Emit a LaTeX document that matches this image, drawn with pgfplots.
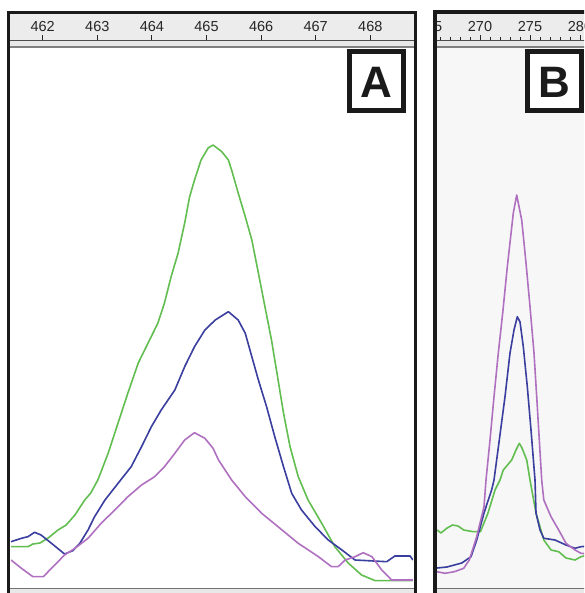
\documentclass[border=0pt]{standalone}
\usepackage{pgfplots}
\pgfplotsset{compat=1.18}
\usepackage{fontspec}
\setmainfont{Liberation Sans}
\definecolor{cgreen}{RGB}{98,190,80}
\definecolor{cblue}{RGB}{58,62,158}
\definecolor{cpurple}{RGB}{176,112,192}
\definecolor{hdr}{RGB}{236,236,236}
\definecolor{frm}{RGB}{26,26,26}

\pgfplotsset{
  dataax/.style={scale only axis, axis lines=none, ymin=0, ymax=540, clip=true},
  hdrax/.style={scale only axis, height=26pt, ymin=0, ymax=1, axis line style={draw=none},
    ytick=\empty, xtick pos=left, tick align=inside,
    major tick length=5pt, minor tick length=3pt,
    every tick/.style={line width=1pt, black!85},
    xticklabel style={anchor=center, yshift=13.3pt, text=black!85, font=\fontsize{14.5}{14.5}\selectfont},
    /pgf/number format/assume math mode=true,
    /pgf/number format/set thousands separator={}},
  crv/.style={line width=1.6pt, line join=round}
}

\begin{document}
\begin{tikzpicture}
\useasboundingbox (0,0) rectangle (584pt,593pt);
\clip (0,0) rectangle (584pt,593pt);
\begin{scope}[x=1pt,y=-1pt,yshift=593pt]
  \fill[white] (0,0) rectangle (584,593);
  % panel A backgrounds
  \fill[hdr] (10,14) rectangle (414,40);
  \fill[black!9] (10,40) rectangle (414,48);
  \fill[black!9] (10,588) rectangle (414,593);
  % panel B backgrounds
  \fill[hdr] (437,13) rectangle (600,40);
  \fill[black!9] (437,40) rectangle (600,48);
  \fill[black!3] (437,48) rectangle (600,588);
  \fill[black!9] (437,588) rectangle (600,593);
\end{scope}

% ---------------- Panel A data ----------------
\begin{axis}[dataax, at={(11pt,5pt)}, anchor=south west, width=402pt, height=540pt,
  xmin=461.419, xmax=468.782]
\addplot[crv, cgreen] coordinates {
(461.42,41.3)(461.73,41.3)(461.82,44)(461.95,45)(462.10,50)(462.28,58)(462.43,63)
(462.59,73)(462.77,88)(462.88,95)(463.01,108)(463.20,135)(463.38,165)(463.56,195)
(463.75,225)(463.93,245)(464.11,265)(464.23,285)(464.35,311)(464.48,335)(464.60,365)
(464.69,391)(464.78,408)(464.90,428)(465.03,440)(465.12,443)(465.28,436.3)(465.40,428)
(465.46,418)(465.58,395)(465.71,371.3)(465.83,348)(465.95,315)(466.07,281.3)(466.19,248)
(466.29,215)(466.41,175)(466.53,141.3)(466.68,111.3)(466.86,88)(467.11,64.7)(467.35,41.3)
(467.60,24.7)(467.84,13)(468.09,7.3)(468.78,7.3)};
\addplot[crv, cblue] coordinates {
(461.42,46.3)(461.61,49.7)(461.73,51.3)(461.85,55.7)(461.97,53)(462.16,44.7)(462.40,34)
(462.55,37.3)(462.68,44.7)(462.83,58)(462.95,71.3)(463.14,88)(463.38,104.7)(463.62,121.3)
(463.81,141.3)(463.99,161.3)(464.17,178)(464.42,198)(464.60,221.3)(464.78,241.3)
(464.97,258)(465.16,268)(465.40,276.3)(465.58,268)(465.71,254.7)(465.83,231.3)
(465.95,208)(466.10,181.3)(466.25,151.3)(466.41,121.3)(466.56,94.7)(466.74,78)
(466.99,61.3)(467.23,48)(467.48,38)(467.72,28)(468.30,26.3)(468.45,32)(468.73,32)(468.78,28)};
\addplot[crv, cpurple] coordinates {
(461.42,28)(461.61,19.7)(461.82,11.3)(462.01,11.3)(462.22,23)(462.40,33)(462.59,39.7)
(462.83,49.7)(463.07,64.7)(463.32,78)(463.56,91.3)(463.81,103)(464.05,111.3)(464.23,121.3)
(464.42,134.7)(464.60,148)(464.78,155.3)(464.97,149.7)(465.12,139.7)(465.22,128)
(465.46,108)(465.71,91.3)(466.01,74.7)(466.31,61.3)(466.68,44.7)(467.05,31.3)(467.29,21.3)
(467.41,21.3)(467.54,28)(467.72,31.3)(467.87,35.3)(468.03,31.3)(468.21,18)(468.39,8)(468.78,8)};
\end{axis}

% ---------------- Panel A header ----------------
\begin{axis}[hdrax, at={(11pt,553pt)}, anchor=south west, width=402pt,
  xmin=461.419, xmax=468.782, xtick={462,463,...,468}]
\end{axis}

% ---------------- Panel B data ----------------
\begin{axis}[dataax, at={(437pt,5pt)}, anchor=south west, width=200pt, height=540pt,
  xmin=265.7, xmax=285.7]
\addplot[crv, cgreen] coordinates {
(265.7,58)(266.1,55)(266.67,59.7)(267.25,63)(267.8,62)(268.37,58)(269.3,56.3)(270.04,56.3)
(270.8,75)(271.5,98)(272.0,108)(272.33,118)(273.17,128)(273.6,138)(273.93,144.7)(274.2,140)
(274.67,128)(275.0,108)(275.6,75)(276.38,48)(277.1,38)(277.87,36.3)(278.6,30)(279.5,28)
(280.1,31.3)(282.0,36)(283.8,38)(285.7,38)};
\addplot[crv, cblue] coordinates {
(265.7,20)(266.7,21)(268.18,25)(269.1,31.3)(269.67,48)(270.4,75)(271.16,98)(271.4,108)
(271.93,148)(272.5,191.3)(273.0,235)(273.4,258)(273.73,271.3)(274.0,266)(274.33,241.3)
(274.73,201.3)(275.1,158)(275.5,108)(275.6,75)(276.0,58)(276.38,49.7)(277.5,48)(278.6,43)
(279.5,39.7)(280.1,41.3)(282.0,43)(285.7,43)};
\addplot[crv, cpurple] coordinates {
(265.7,16.3)(266.5,14.7)(267.44,16.3)(268.37,19.7)(268.93,28)(269.67,51.3)(270.4,81.3)
(270.6,108)(271.0,148)(271.4,191.3)(271.83,235)(272.27,275)(272.73,321.3)(273.33,375)
(273.67,393)(274.17,368)(274.6,325)(275.0,281.3)(275.4,235)(275.67,191.3)(275.93,148)
(276.17,108)(276.38,88)(277.1,71.3)(277.87,58)(278.6,44.7)(279.5,38)(280.1,34.7)
(282.0,33)(285.7,33)};
\end{axis}

% ---------------- Panel B header (clipped to panel) ----------------
\begin{scope}
\clip (437pt,0pt) rectangle (584pt,593pt);
\begin{axis}[hdrax, at={(421pt,553pt)}, anchor=south west, width=217pt,
  xmin=264.1, xmax=285.8, xtick={265,270,...,285}, minor xtick={265,...,285}]
\end{axis}
\end{scope}

% ---------------- Frames and decorations ----------------
\begin{scope}[x=1pt,y=-1pt,yshift=593pt]
  % panel A
  \draw[black!70, line width=1.6pt] (10,40.5) -- (414,40.5);
  \draw[black!50, line width=1.6pt] (10,47) -- (414,47);
  \draw[black!55, line width=1.4pt] (10,588.7) -- (414,588.7);
  \draw[frm, line width=3.4pt] (8.5,600) -- (8.5,12.5) -- (415.5,12.5) -- (415.5,600);
  \draw[frm, line width=5pt, fill=white] (349.5,51.5) rectangle (403.5,110.5);
  \node[font=\bfseries\fontsize{44}{44}\selectfont, text=frm, inner sep=0pt] at (376.5,82.5) {A};
  % panel B
  \draw[black!70, line width=1.6pt] (437,40.5) -- (600,40.5);
  \draw[black!50, line width=1.6pt] (437,47) -- (600,47);
  \draw[black!55, line width=1.4pt] (437,588.7) -- (600,588.7);
  \draw[frm, line width=3.6pt] (435,600) -- (435,12) -- (600,12);
  \draw[frm, line width=5pt, fill=white] (527.5,51.5) rectangle (581.5,110.5);
  \node[font=\bfseries\fontsize{44}{44}\selectfont, text=frm, inner sep=0pt] at (554.5,82.5) {B};
\end{scope}
\end{tikzpicture}
\end{document}
